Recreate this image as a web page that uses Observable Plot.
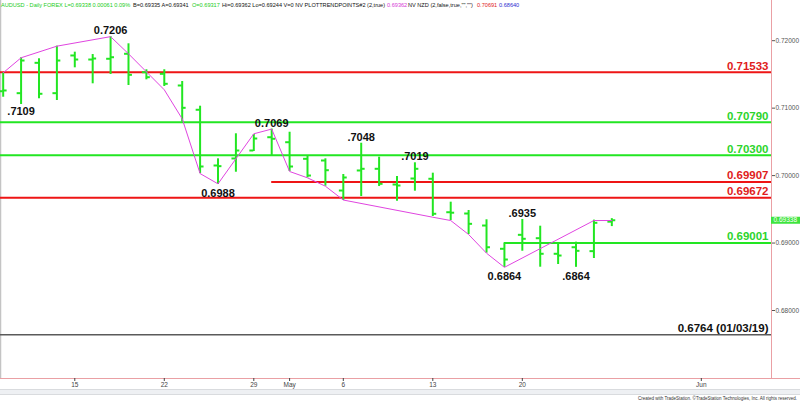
<!DOCTYPE html>
<html><head><meta charset="utf-8">
<script src="https://cdn.jsdelivr.net/npm/d3@7"></script>
<script src="https://cdn.jsdelivr.net/npm/@observablehq/plot@0.6"></script>
<style>
html,body{margin:0;padding:0;background:#fff;width:800px;height:402px;overflow:hidden;font-family:"Liberation Sans",Arial,sans-serif}
#wrap{position:relative;width:800px;height:402px}
#chart{position:absolute;left:0;top:0}
#hdr{position:absolute;left:0;top:0;width:800px;height:10px;z-index:2;font-size:5.6px;white-space:nowrap}
#hdr span{position:absolute;top:2px}
#scroll{position:absolute;left:0;top:389px;width:800px;height:6px;background:#eef0f3;border-top:1px solid #d9dbde;border-bottom:1px solid #d9dbde;box-sizing:border-box}
#credit{position:absolute;right:3px;top:396px;font-size:4.5px;line-height:5px;color:#333;white-space:nowrap}
.g{color:#22cc22}.k{color:#111}.m{color:#d63ad6}.r{color:#e02020}.b{color:#2b2bd0}
</style></head>
<body><div id="wrap">
<div id="chart"></div>
<div id="hdr">
<span class="g" style="left:1px">AUDUSD - Daily FOREX L=0.69338 0.00061 0.09%</span>
<span class="k" style="left:133px">B=0.69335 A=0.69341</span>
<span class="g" style="left:192px">O=0.69317</span>
<span class="k" style="left:222px">Hi=0.69362 Lo=0.69244 V=0 NV PLOTTRENDPOINTS#2 (2,true)</span>
<span class="m" style="left:387px">0.69362</span>
<span class="k" style="left:408px">NV NZD (2,false,true,"","")</span>
<span class="r" style="left:477px">0.70691</span>
<span class="b" style="left:499px">0.68640</span>
</div>
<div id="scroll"></div>
<div id="credit">Created with TradeStation. ©TradeStation Technologies, Inc. All rights reserved.</div>
</div>
<script>
// ---- trading days (last ones are empty space on the right) ----
const dates = ["2019-04-09","2019-04-10","2019-04-11","2019-04-12","2019-04-15","2019-04-16","2019-04-17","2019-04-18","2019-04-19",
"2019-04-22","2019-04-23","2019-04-24","2019-04-25","2019-04-26","2019-04-29","2019-04-30","2019-05-01","2019-05-02","2019-05-03",
"2019-05-06","2019-05-07","2019-05-08","2019-05-09","2019-05-10","2019-05-13","2019-05-14","2019-05-15","2019-05-16","2019-05-17",
"2019-05-20","2019-05-21","2019-05-22","2019-05-23","2019-05-24","2019-05-27","2019-05-28","2019-05-29","2019-05-30","2019-05-31",
"2019-06-03","2019-06-04","2019-06-05","2019-06-06","2019-06-07"];

// ---- daily OHLC bars (first 35 days) ----
const opens  = [0.71251,0.71222,0.71672,0.71222,0.71781,0.71721,0.71732,0.71806,0.71533,0.71509,0.71336,0.70976,0.70150,0.70254,0.70372,0.70569,0.70495,0.70249,0.70224,0.69779,0.70076,0.70101,0.69868,0.69957,0.69953,0.69457,0.69438,0.69260,0.68915,0.69122,0.69072,0.68841,0.68938,0.68880,0.69317];
const highs  = [0.71524,0.71747,0.71732,0.71919,0.71830,0.71795,0.72060,0.71954,0.71569,0.71569,0.71395,0.71029,0.70249,0.70620,0.70610,0.70690,0.70643,0.70298,0.70249,0.70016,0.70480,0.70273,0.69987,0.70190,0.70036,0.69606,0.69483,0.69345,0.69001,0.69350,0.69250,0.68989,0.69013,0.69340,0.69362];
const lows   = [0.71162,0.71054,0.71139,0.71113,0.71598,0.71361,0.71499,0.71336,0.71420,0.71321,0.70792,0.70030,0.69868,0.70050,0.70357,0.70298,0.70061,0.69967,0.69843,0.69631,0.69690,0.69838,0.69620,0.69769,0.69394,0.69334,0.69127,0.68850,0.68640,0.68879,0.68642,0.68682,0.68640,0.68771,0.69244];
const closes = [0.71262,0.71706,0.71213,0.71706,0.71721,0.71736,0.71755,0.71494,0.71459,0.71361,0.71005,0.70135,0.70140,0.70372,0.70550,0.70546,0.70135,0.70001,0.70080,0.69972,0.70101,0.69878,0.69853,0.70101,0.69434,0.69450,0.69285,0.68938,0.68756,0.69063,0.68841,0.68815,0.68885,0.69300,0.69338];

// ---- trend-points zigzag ----
const zzDates  = ["2019-04-09","2019-04-10","2019-04-12","2019-04-17","2019-04-18","2019-04-22","2019-04-23","2019-04-24","2019-04-25","2019-04-29","2019-04-30","2019-05-01","2019-05-02","2019-05-03","2019-05-06","2019-05-13","2019-05-14","2019-05-15","2019-05-16","2019-05-17","2019-05-24","2019-05-27"];
const zzValues = [0.71524,0.71747,0.71919,0.72060,0.71806,0.71272,0.70842,0.70030,0.69878,0.70620,0.70690,0.70061,0.69967,0.69843,0.69638,0.69383,0.69334,0.69127,0.68850,0.68640,0.69334,0.69334];

// ---- swing labels ----
const ptText   = ["0.7206",".7109","0.6988","0.7069",".7048",".7019",".6935","0.6864",".6864"];
const ptDates  = ["2019-04-17","2019-04-10","2019-04-25","2019-04-30","2019-05-07","2019-05-10","2019-05-20","2019-05-17","2019-05-23"];
const ptValues = [0.7206,0.7109,0.6988,0.7069,0.7048,0.7019,0.6935,0.6864,0.6864];
const ptSide   = ["above","below","below","above","above","above","above","below","below"];

// ---- horizontal levels ----
const levelValues = [0.71533,0.70790,0.70300,0.69907,0.69672,0.69001,0.6764];
const levelText   = ["0.71533","0.70790","0.70300","0.69907","0.69672","0.69001","0.6764 (01/03/19)"];
const levelKind   = ["red","green","green","red","red","green","old"];
const levelStart  = [null,null,null,"2019-04-30",null,"2019-05-17",null];

// ---- axes ----
const yTicks = [0.68,0.69,0.70,0.71,0.72];
const xTickDates  = ["2019-04-15","2019-04-22","2019-04-29","2019-05-01","2019-05-06","2019-05-13","2019-05-20","2019-06-03"];
const xTickLabels = ["15","22","29","May","6","13","20","Jun"];
const lastPrice = 0.69338;

const GREEN = "#22e622", RED = "#ee1515", PINK = "#eaa0a4";
const lineColor = {red: RED, green: GREEN, old: "#5a5a5a"};
const textColor = {red: "#e01c1c", green: "#2cd42c", old: "#111111"};

const idx = new Map(dates.map((d, i) => [d, i]));
const X0 = -0.15, X1 = 42.92;
const Y0 = 0.66992, Y1 = 0.72596;

const bars = opens.map((o, k) => ({i: k, o, h: highs[k], l: lows[k], c: closes[k]}));
const zz = zzDates.map((d, k) => ({i: idx.get(d), v: zzValues[k]}));
const pts = ptText.map((t, k) => ({t, i: idx.get(ptDates[k]), v: ptValues[k], side: ptSide[k]}));
const levels = levelValues.map((v, k) => ({v, t: levelText[k], kind: levelKind[k], start: levelStart[k] ? idx.get(levelStart[k]) : X0}));
const tickIdx = xTickDates.map(d => idx.get(d));
const tickLab = new Map(tickIdx.map((i, k) => [i, xTickLabels[k]]));
const font = '"Liberation Sans", Arial, sans-serif';

const chart = Plot.plot({
  width: 800, height: 390,
  marginLeft: 0, marginRight: 29, marginTop: 0, marginBottom: 12,
  x: {domain: [X0, X1], axis: null},
  y: {domain: [Y0, Y1], axis: null},
  style: {fontFamily: font, background: "white", overflow: "visible"},
  marks: [
    Plot.ruleX([X0], {stroke: "#c4c4c4", strokeWidth: 1.5}),
    Plot.ruleY(levels, {y: "v", x1: "start", x2: X1, stroke: d => lineColor[d.kind], strokeWidth: d => d.kind === "old" ? 1.5 : 2}),
    Plot.ruleX(bars, {x: "i", y1: "l", y2: "h", stroke: GREEN, strokeWidth: 2}),
    Plot.ruleY(bars, {y: "o", x1: d => d.i - 0.22, x2: d => d.i, stroke: GREEN, strokeWidth: 2}),
    Plot.ruleY(bars, {y: "c", x1: d => d.i, x2: d => d.i + 0.22, stroke: GREEN, strokeWidth: 2}),
    Plot.line(zz, {x: "i", y: "v", stroke: "#e045e0", strokeWidth: 1}),
    Plot.text(pts.filter(d => d.side === "above"), {x: "i", y: "v", text: "t", lineAnchor: "bottom", dy: -2.5, fontWeight: "bold", fontSize: 11, fill: "#111"}),
    Plot.text(pts.filter(d => d.side === "below"), {x: "i", y: "v", text: "t", lineAnchor: "top", dy: 5, fontWeight: "bold", fontSize: 11, fill: "#111"}),
    Plot.text(levels, {x: X1, y: "v", text: "t", textAnchor: "end", lineAnchor: "bottom", dx: -3, dy: -2.5, fill: d => textColor[d.kind], fontWeight: "bold", fontSize: 11.5}),
    Plot.ruleX([X1], {stroke: PINK, strokeWidth: 1}),
    Plot.ruleY([Y0], {x1: X0, x2: X1, insetRight: -29, stroke: PINK, strokeWidth: 1}),
    Plot.axisY({anchor: "right", ticks: yTicks, tickFormat: d3.format(".5f"), tickSize: 3, tickPadding: 1, fontSize: 6.5, color: "#555"}),
    Plot.axisX({ticks: tickIdx, tickFormat: i => tickLab.get(i), tickSize: 3, tickPadding: 1, fontSize: 6.5, color: "#444"}),
    Plot.ruleY([lastPrice], {x1: X1, x2: X1, insetRight: -29, stroke: "#3ee43e", strokeWidth: 7}),
    Plot.text([lastPrice], {x: X1, y: d => d, text: d => d3.format(".5f")(d), textAnchor: "start", dx: 2, fill: "white", fontSize: 6.5})
  ]
});
document.getElementById("chart").appendChild(chart);
</script>
</body></html>
